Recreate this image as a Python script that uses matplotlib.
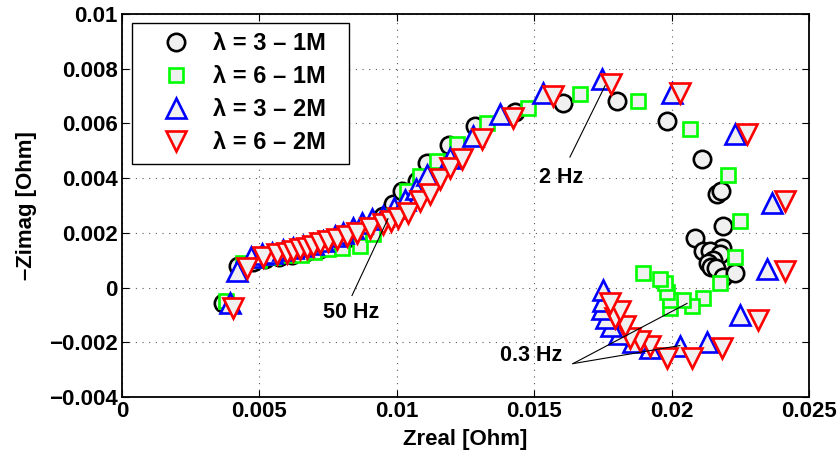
import numpy as np
import matplotlib
matplotlib.use("Agg")
import matplotlib.pyplot as plt

plt.rcParams['font.family'] = ['Liberation Sans', 'DejaVu Sans']
plt.rcParams['font.weight'] = 'bold'
plt.rcParams['axes.labelweight'] = 'bold'
plt.rcParams['font.size'] = 16

# lambda = 3 - 1M (circles)
c_x = [0.00368, 0.00422, 0.00475, 0.0052, 0.0057, 0.0062, 0.0067, 0.0072, 0.0077, 0.0082,
       0.0087, 0.0092, 0.0095, 0.00986, 0.0102, 0.01073, 0.0111, 0.0119, 0.01285, 0.0143,
       0.01605, 0.0180, 0.01983, 0.0211, 0.02165, 0.0218, 0.02187, 0.02085, 0.02114, 0.02183,
       0.0214, 0.02176, 0.02151, 0.02133, 0.02143, 0.0216, 0.02187, 0.0223]
c_y = [-0.00058, 0.0008, 0.00095, 0.00105, 0.00112, 0.0012, 0.0013, 0.0014, 0.0016, 0.0018,
       0.0020, 0.0023, 0.0026, 0.00307, 0.00354, 0.0039, 0.00457, 0.0052, 0.0059, 0.0064,
       0.00676, 0.00683, 0.0061, 0.0047, 0.00343, 0.00354, 0.00226, 0.00183, 0.00135, 0.00146,
       0.00135, 0.00124, 0.00099, 0.00088, 0.00077, 0.0007, 0.00037, 0.00055]

# lambda = 6 - 1M (squares)
s_x = [0.0038, 0.0044, 0.0050, 0.0055, 0.0060, 0.0065, 0.0070, 0.0075, 0.0080, 0.00866,
       0.00913, 0.0097, 0.01037, 0.01085, 0.01146, 0.01219, 0.01328, 0.01477, 0.01667, 0.01878,
       0.02067, 0.02205, 0.02249, 0.0223, 0.02176, 0.02114, 0.02074, 0.02042, 0.01994, 0.01994,
       0.01983, 0.01976, 0.01958, 0.01896]
s_y = [-0.0005, 0.0009, 0.0010, 0.0011, 0.0012, 0.0012, 0.0013, 0.0014, 0.00145, 0.00153,
       0.00197, 0.0026, 0.00354, 0.00409, 0.00464, 0.00526, 0.00603, 0.00658, 0.00709, 0.00683,
       0.0058, 0.0041, 0.00245, 0.0011, 0.00018, -0.00037, -0.00066, -0.00047, -0.00073, -0.00047,
       -0.00018, 0.00015, 0.00033, 0.00055]

# lambda = 3 - 2M (up triangles)
b_x = [0.00393, 0.00418, 0.0047, 0.0051, 0.00546, 0.00586, 0.00622, 0.00659, 0.00695, 0.00731,
       0.00775, 0.00804, 0.00841, 0.00873, 0.0091, 0.0095, 0.0099, 0.0103, 0.0107, 0.0111,
       0.01194, 0.01277, 0.01376, 0.01532, 0.01747, 0.0200, 0.0223, 0.02365, 0.02347, 0.02249,
       0.0213, 0.0203, 0.0192, 0.0186, 0.0181, 0.0178, 0.0176, 0.01745, 0.0175, 0.0175]
b_y = [-0.00058, 0.00062, 0.0011, 0.00124, 0.00128, 0.00139, 0.00146, 0.00153, 0.00161, 0.00172,
       0.0019, 0.00201, 0.00216, 0.00237, 0.0025, 0.0026, 0.0029, 0.0032, 0.0036, 0.0041,
       0.00475, 0.00555, 0.00636, 0.00712, 0.00763, 0.0071, 0.00562, 0.0031, 0.00069, -0.00102,
       -0.002, -0.00212, -0.0022, -0.002, -0.0017, -0.0014, -0.0011, -0.0008, -0.0005, -0.0001]

# lambda = 6 - 2M (down triangles)
r_x = [0.00404, 0.00455, 0.00513, 0.00564, 0.0060, 0.00622, 0.00648, 0.00673, 0.00695, 0.0072,
       0.0075, 0.00782, 0.00819, 0.00855, 0.00902, 0.0095, 0.0098, 0.01004, 0.01041, 0.01085,
       0.01121, 0.01157, 0.01194, 0.01237, 0.0131, 0.01423, 0.01568, 0.0178, 0.0203, 0.02274,
       0.02413, 0.02413, 0.02314, 0.02183, 0.02074, 0.01983, 0.01921, 0.01885, 0.01849, 0.0183,
       0.01794, 0.01812, 0.01776]
r_y = [-0.00073, 0.00073, 0.0011, 0.00124, 0.00128, 0.00135, 0.00142, 0.00146, 0.00153, 0.00164,
       0.00172, 0.00179, 0.0019, 0.00201, 0.00219, 0.00234, 0.00245, 0.00256, 0.00274, 0.00318,
       0.00343, 0.00398, 0.00438, 0.00471, 0.00544, 0.00621, 0.00701, 0.00745, 0.00712, 0.00563,
       0.00318, 0.00062, -0.0012, -0.0022, -0.00256, -0.00256, -0.00212, -0.00194, -0.00183, -0.00139,
       -0.00113, -0.00084, -0.00058]

labels = [u'\u03bb = 3 \u2013 1M', u'\u03bb = 6 \u2013 1M', u'\u03bb = 3 \u2013 2M', u'\u03bb = 6 \u2013 2M']
xticks = [0, 0.005, 0.01, 0.015, 0.02, 0.025]
yticks = [-0.004, -0.002, 0, 0.002, 0.004, 0.006, 0.008, 0.01]

face = '#f0f0f0'

fig = plt.figure(figsize=(8.4, 4.63), dpi=100)
ax = fig.add_axes([122/840., 66/463., 687/840., 383/463.])

ax.plot(c_x, c_y, 'o', ms=12.5, mew=1.9, mec='k', mfc=face, ls='none', label=labels[0])
ax.plot(s_x, s_y, 's', ms=10.5, mew=1.9, mec='#00ff00', mfc=face, ls='none', label=labels[1])
ax.plot(b_x, b_y, '^', ms=15, mew=1.9, mec='#0000ff', mfc=face, ls='none', label=labels[2])
ax.plot(r_x, r_y, 'v', ms=15, mew=1.9, mec='#ff0000', mfc=face, ls='none', label=labels[3])

# frequency annotations
lk = dict(color='k', lw=0.8)
ax.plot([0.0163, 0.01758], [0.00477, 0.00738], **lk)
ax.text(0.01598, 0.00404, '2 Hz', ha='center', va='center', fontsize=15.5)
ax.plot([0.00837, 0.00968], [-0.00029, 0.00252], **lk)
ax.text(0.00833, -0.00091, '50 Hz', ha='center', va='center', fontsize=15.5)
ax.plot([0.01641, 0.02056], [-0.00278, -0.00058], **lk)
ax.plot([0.01641, 0.0203], [-0.00278, -0.00212], **lk)
ax.text(0.01488, -0.00248, '0.3 Hz', ha='center', va='center', fontsize=15.5)

ax.set_xlim(0, 0.025)
ax.set_ylim(-0.004, 0.01)
ax.set_xticks(xticks)
ax.set_yticks(yticks)
fmt = lambda v, p: ('%g' % v).replace('-', u'\u2212')
ax.xaxis.set_major_formatter(plt.FuncFormatter(fmt))
ax.yaxis.set_major_formatter(plt.FuncFormatter(fmt))
ax.tick_params(direction='in', top=True, right=True, length=5, width=0.8, pad=3)
ax.grid(True, color='0.35', ls=(0, (1, 5)), lw=0.8)
for s in ax.spines.values():
    s.set_linewidth(1.3)

ax.set_xlabel('Zreal [Ohm]', labelpad=5)
ax.set_ylabel(u'\u2013Zimag [Ohm]', labelpad=9)

# legend box ~217x138 px, 10 px right of / 9 px below the axes corner
lw_, lh_ = 217/687., 138/383.
leg = ax.legend(loc='upper left', bbox_to_anchor=(10/687., 1 - 9/383. - lh_, lw_, lh_),
                mode='expand', borderaxespad=0, fontsize=17,
                fancybox=False, framealpha=1, edgecolor='k', handlelength=2.9,
                handletextpad=0.15, labelspacing=0.42, borderpad=0.4)
leg.get_frame().set_linewidth(1.0)

fig.savefig('out.png', dpi=100)
